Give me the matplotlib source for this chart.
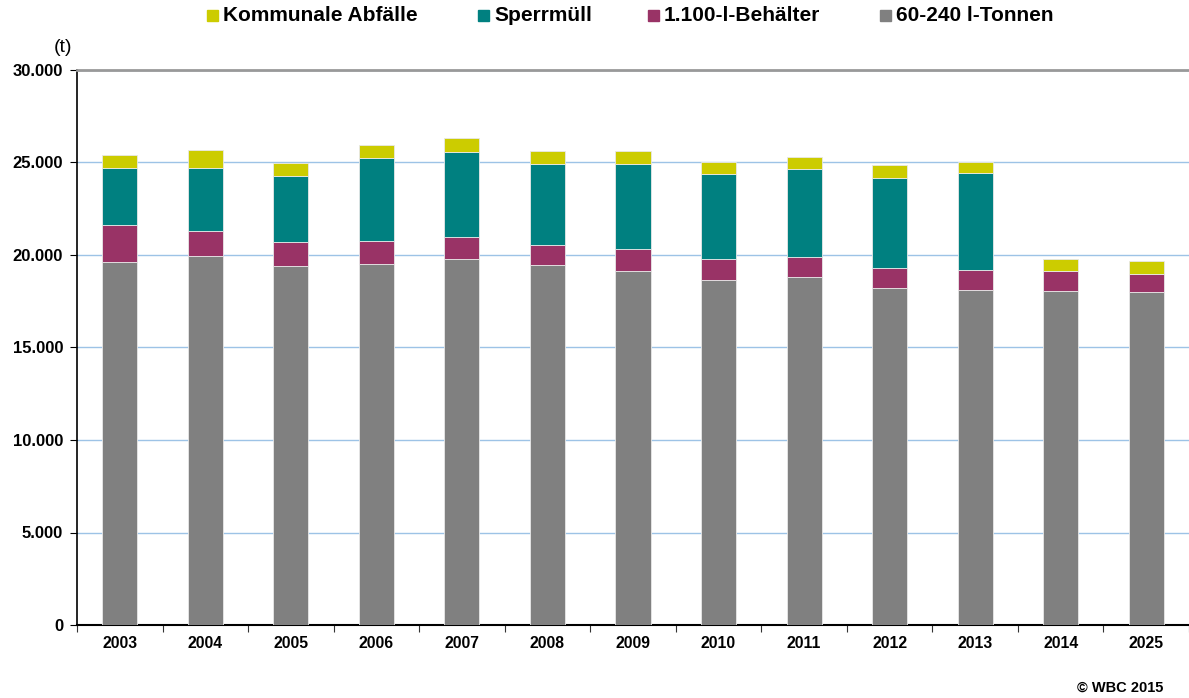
import matplotlib
matplotlib.use("Agg")
import matplotlib.pyplot as plt
import numpy as np
from matplotlib.patches import Rectangle
from matplotlib.ticker import FuncFormatter, FixedLocator

years = ["2003", "2004", "2005", "2006", "2007", "2008", "2009",
         "2010", "2011", "2012", "2013", "2014", "2025"]
tonnen = [19605, 19946, 19423, 19514, 19784, 19459, 19135, 18630, 18811, 18198, 18090, 18054, 17984]
behaelter = [2017, 1369, 1297, 1243, 1207, 1100, 1189, 1136, 1099, 1117, 1117, 1081, 1007]
sperrmuell = [3081, 3405, 3568, 4486, 4595, 4378, 4613, 4612, 4739, 4847, 5225, 0, 0]
kommunal = [702, 956, 703, 703, 738, 667, 667, 649, 666, 703, 613, 631, 685]

series = [("60-240 l-Tonnen", tonnen, "#808080"),
          ("1.100-l-Behälter", behaelter, "#993366"),
          ("Sperrmüll", sperrmuell, "#008080"),
          ("Kommunale Abfälle", kommunal, "#CCCC00")]

plt.rcParams["font.family"] = ["Liberation Sans", "DejaVu Sans"]
W, H = 1189, 698
fig = plt.figure(figsize=(W / 100, H / 100), dpi=100)
ax = fig.add_axes([77 / W, (H - 625) / H, (1189 - 77) / W, 555 / H])

x = np.arange(len(years))
bottom = np.zeros(len(years))
for name, vals, col in series:
    vals = np.array(vals, float)
    ax.bar(x, vals, 0.41, bottom=bottom, color=col, edgecolor="#e8e8e8",
           linewidth=0.6, label=name, zorder=3)
    bottom += vals

ax.set_xlim(-0.5, len(years) - 0.5)
ax.set_ylim(0, 30000)
ax.set_yticks(np.arange(0, 30001, 5000))
ax.yaxis.set_major_formatter(FuncFormatter(lambda v, p: f"{int(v):,}".replace(",", ".")))
ax.grid(axis="y", color="#9DC3E6", linewidth=1.0, zorder=0)
ax.set_xticks(x)
ax.set_xticklabels(years)
ax.xaxis.set_minor_locator(FixedLocator(np.arange(-0.5, len(years), 1)))
ax.tick_params(axis="x", which="major", length=0, pad=8)
ax.tick_params(axis="x", which="minor", length=5, width=0.8, color="#333333")
ax.tick_params(axis="y", length=5, width=0.8, pad=5)
for lab in ax.get_xticklabels():
    lab.set_fontweight("bold")
    lab.set_fontsize(11.3)
for lab in ax.get_yticklabels():
    lab.set_fontweight("bold")
    lab.set_fontsize(12)

ax.spines["right"].set_visible(False)
ax.spines["top"].set_color("#999999")
ax.spines["top"].set_linewidth(2)
ax.spines["left"].set_linewidth(1.2)
ax.spines["bottom"].set_linewidth(1.5)

# legend placed like the original (squares + bold labels in one row)
legend_order = ["Kommunale Abfälle", "Sperrmüll", "1.100-l-Behälter", "60-240 l-Tonnen"]
colors = {n: c for n, _, c in series}
square_px = [207, 478, 648, 880]
for name, sx in zip(legend_order, square_px):
    fig.add_artist(Rectangle((sx / W, 1 - 21 / H), 11 / W, 11 / H,
                             transform=fig.transFigure, color=colors[name]))
    fig.text((sx + 16) / W, 1 - 21 / H, name, fontsize=15, fontweight="bold",
             ha="left", va="baseline")

fig.text(54 / W, 1 - 47 / H, "(t)", fontsize=14, ha="left", va="center")
fig.text(1163 / W, 1 - 688 / H, "© WBC 2015", fontsize=10.5, fontweight="bold",
         ha="right", va="center")

fig.savefig("out.png", dpi=100)
